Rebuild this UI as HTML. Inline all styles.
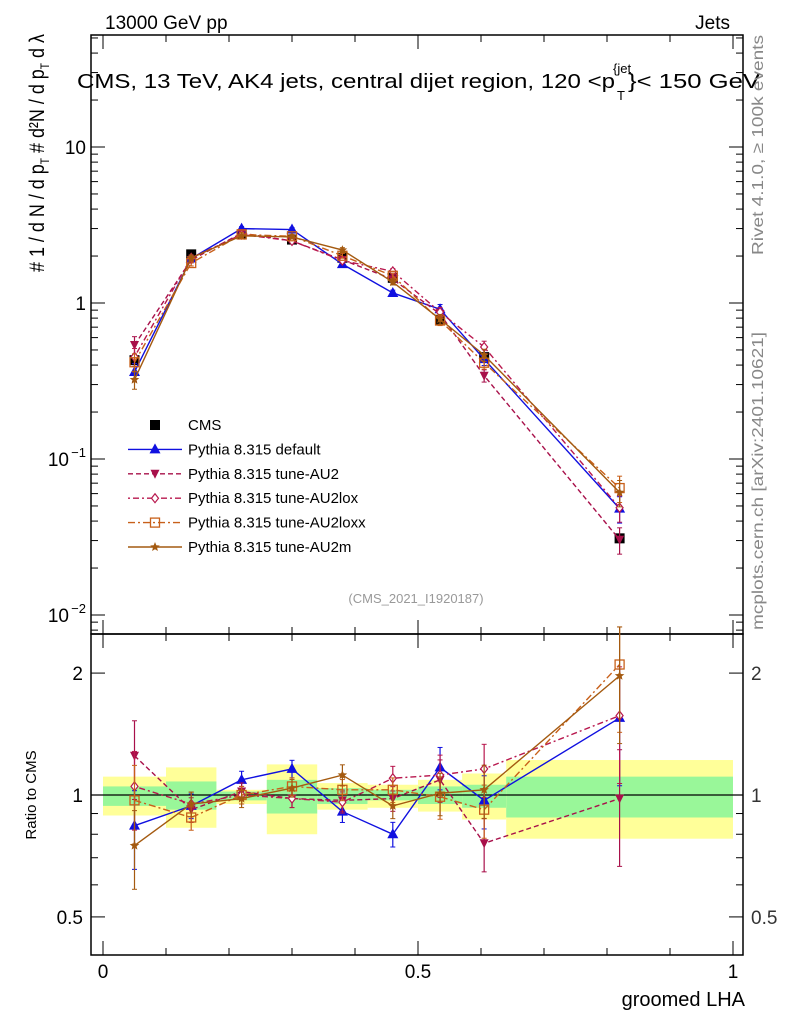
<!DOCTYPE html>
<html><head><meta charset="utf-8"><style>
body{margin:0;background:#fff;width:786px;height:1024px;overflow:hidden}
svg{font-family:"Liberation Sans","DejaVu Sans",sans-serif}
</style></head><body>
<svg id="chart" width="786" height="1024" viewBox="0 0 786 1024" xmlns="http://www.w3.org/2000/svg">
<text x="105" y="29" font-size="19">13000 GeV pp</text>
<text x="730" y="29" font-size="19" text-anchor="end">Jets</text>
<g id="bands"></g>
<g id="axes"></g>
<g id="series"></g>
<text x="77" y="88" font-size="20" textLength="538" lengthAdjust="spacingAndGlyphs">CMS, 13 TeV, AK4 jets, central dijet region, 120 &lt;p</text>
<text x="617" y="100" font-size="13">T</text>
<text x="613" y="73" font-size="13">{jet</text>
<text x="628" y="88" font-size="20" textLength="132" lengthAdjust="spacingAndGlyphs">}&lt; 150 GeV</text>
<text transform="translate(44,272) rotate(-90)" font-size="21" textLength="238" lengthAdjust="spacingAndGlyphs">#  1 / d N / d p<tspan font-size="12" dy="5">T</tspan><tspan dy="-5"> # d²N / d p</tspan><tspan font-size="12" dy="5">T</tspan><tspan dy="-5"> d λ</tspan></text>
<text transform="translate(36,795) rotate(-90)" font-size="15" text-anchor="middle">Ratio to CMS</text>
<text x="745" y="1006" font-size="20" text-anchor="end">groomed LHA</text>
<text transform="translate(763,255) rotate(-90)" font-size="16" fill="#888" textLength="220" lengthAdjust="spacingAndGlyphs">Rivet 4.1.0, ≥ 100k events</text>
<text transform="translate(763,630) rotate(-90)" font-size="16" fill="#888" textLength="298" lengthAdjust="spacingAndGlyphs">mcplots.cern.ch [arXiv:2401.10621]</text>
<text x="416" y="603" font-size="13" fill="#999" text-anchor="middle">(CMS_2021_I1920187)</text>
<g id="legend"></g>
</svg>
<script>
const xCenters=[0.05,0.14,0.22,0.30,0.38,0.46,0.535,0.605,0.82];
const binEdges=[0,0.1,0.18,0.26,0.34,0.42,0.5,0.57,0.64,1.0];
const cmsValues=[0.43,2.05,2.75,2.55,1.95,1.45,0.78,0.45,0.031];
const ratioDefault=[0.84,0.94,1.09,1.16,0.91,0.80,1.17,0.97,1.55];
const ratioAU2=[1.25,0.92,1.02,0.98,0.97,0.98,1.09,0.76,0.98];
const ratioAU2lox=[1.05,0.95,1.00,0.98,0.96,1.10,1.12,1.16,1.57];
const ratioAU2loxx=[0.97,0.88,1.00,1.05,1.03,1.03,0.99,0.92,2.10];
const ratioAU2m=[0.75,0.95,0.98,1.04,1.12,0.94,1.01,1.03,1.97];
const relErr=[0.22,0.07,0.05,0.05,0.06,0.07,0.12,0.15,0.32];
const bandTotalUp=[1.11,1.17,1.03,1.19,1.07,1.06,1.09,1.13,1.22];
const bandTotalDn=[0.89,0.83,0.95,0.80,0.92,0.93,0.91,0.87,0.78];
const bandStatUp=[1.05,1.08,1.02,1.09,1.04,1.03,1.05,1.06,1.11];
const bandStatDn=[0.94,0.92,0.97,0.90,0.95,0.97,0.95,0.93,0.88];
const legendLabels=["CMS","Pythia 8.315 default","Pythia 8.315 tune-AU2","Pythia 8.315 tune-AU2lox","Pythia 8.315 tune-AU2loxx","Pythia 8.315 tune-AU2m"];

const NS="http://www.w3.org/2000/svg";
const L=91,R=743,T=35,MB=634,RB=955;
const X=v=>103+630*v;
const Y=v=>303-156*Math.log10(v);
const YR=v=>795-405*Math.log10(v);
function mk(parent,tag,attrs){const e=document.createElementNS(NS,tag);for(const k in attrs)e.setAttribute(k,attrs[k]);document.getElementById(parent).appendChild(e);return e;}

for(let i=0;i<xCenters.length;i++){
  const x0=X(binEdges[i]),x1=X(binEdges[i+1]);
  const y=mk('bands','rect',{x:x0,y:YR(bandTotalUp[i]),width:x1-x0,height:YR(bandTotalDn[i])-YR(bandTotalUp[i]),fill:'#ffff99'});
  
  
  const g=mk('bands','rect',{x:x0,y:YR(bandStatUp[i]),width:x1-x0,height:YR(bandStatDn[i])-YR(bandStatUp[i]),fill:'#99f799'});
  
  
}
const f1=mk('axes','rect',{x:L,y:T,width:R-L,height:MB-T,fill:'none',stroke:'#000','stroke-width':1.5});


const f2=mk('axes','rect',{x:L,y:MB,width:R-L,height:RB-MB,fill:'none',stroke:'#000','stroke-width':1.5});


const ref=mk('axes','line',{x1:L,x2:R,y1:YR(1),y2:YR(1),stroke:'#000','stroke-width':1.3});


for(let k=0;k<=10;k++){
  const v=k/10,x=X(v),len=(k%5==0)?14:7;
  [[MB,-1],[RB,-1],[T,1],[MB,1]].forEach(([yb,d])=>{mk('axes','line',{x1:x,x2:x,y1:yb,y2:yb+d*len,stroke:'#000'});});
}
[[0,"0"],[0.5,"0.5"],[1,"1"]].forEach(([v,t])=>{const e=mk('axes','text',{x:X(v),y:978,'font-size':19,'text-anchor':'middle'});e.textContent=t;});
for(let p=-3;p<=1;p++){for(let m=1;m<=9;m++){const v=m*Math.pow(10,p),y=Y(v);if(y<T||y>MB)continue;const len=m==1?14:7;
  mk('axes','line',{x1:L,x2:L+len,y1:y,y2:y,stroke:'#000'});mk('axes','line',{x1:R,x2:R-len,y1:y,y2:y,stroke:'#000'});}}
[[10,"10"],[1,"1"]].forEach(([v,t])=>{const e=mk('axes','text',{x:L-5,y:Y(v)+7,'font-size':19,'text-anchor':'end'});e.textContent=t;});
[[0.1,"−1"],[0.01,"−2"]].forEach(([v,t])=>{const e=mk('axes','text',{x:L-22,y:Y(v)+7,'font-size':19,'text-anchor':'end'});e.textContent="10";
  const s=mk('axes','text',{x:L-5,y:Y(v)-2,'font-size':13,'text-anchor':'end'});s.textContent=t;});
[0.5,0.6,0.7,0.8,0.9,1,2].forEach(v=>{const y=YR(v),len=(v==0.5||v==1||v==2)?14:7;mk('axes','line',{x1:L,x2:L+len,y1:y,y2:y,stroke:'#000'});mk('axes','line',{x1:R,x2:R-len,y1:y,y2:y,stroke:'#000'});});
[[0.5,"0.5"],[1,"1"],[2,"2"]].forEach(([v,t])=>{
  const a=mk('axes','text',{x:L-8,y:YR(v)+7,'font-size':19,'text-anchor':'end'});a.textContent=t;
  const b=mk('axes','text',{x:R+8,y:YR(v)+7,'font-size':19,'fill':'#333'});b.textContent=t;});

function marker(g,type,x,y,c){
  if(type=='sq')return mk(g,'rect',{x:x-5,y:y-5,width:10,height:10,fill:'#000'});
  if(type=='tri')return mk(g,'polygon',{points:`${x},${y-6} ${x-5.5},${y+4} ${x+5.5},${y+4}`,fill:c});
  if(type=='itri')return mk(g,'polygon',{points:`${x},${y+5} ${x-4.5},${y-4} ${x+4.5},${y-4}`,fill:c});
  if(type=='dia')return mk(g,'polygon',{points:`${x},${y-4.5} ${x-3.5},${y} ${x},${y+4.5} ${x+3.5},${y}`,fill:'#fff',stroke:c,'stroke-width':1.2});
  if(type=='osq')return mk(g,'rect',{x:x-4.5,y:y-4.5,width:9,height:9,fill:'none',stroke:c,'stroke-width':1.3});
  if(type=='star'){let p=[];for(let k=0;k<10;k++){const r=k%2?2.2:5,a=-Math.PI/2+k*Math.PI/5;p.push((x+r*Math.cos(a)).toFixed(1)+','+(y+r*Math.sin(a)).toFixed(1));}return mk(g,'polygon',{points:p.join(' '),fill:c});}
}
const series=[
 {name:'pythia-default',ratio:ratioDefault,c:'#1010e0',dash:'',m:'tri'},
 {name:'pythia-au2',ratio:ratioAU2,c:'#a8104a',dash:'5,3',m:'itri'},
 {name:'pythia-au2lox',ratio:ratioAU2lox,c:'#b8184e',dash:'2,3,6,3',m:'dia'},
 {name:'pythia-au2loxx',ratio:ratioAU2loxx,c:'#c8601a',dash:'7,3,2,3',m:'osq'},
 {name:'pythia-au2m',ratio:ratioAU2m,c:'#a45a10',dash:'',m:'star'}];
function errbar(x,y1,y2,c){mk('series','line',{x1:x,x2:x,y1:y1,y2:y2,stroke:c,'stroke-width':1.2});mk('series','line',{x1:x-2.5,x2:x+2.5,y1:y1,y2:y1,stroke:c});mk('series','line',{x1:x-2.5,x2:x+2.5,y1:y2,y2:y2,stroke:c});}
cmsValues.forEach((v,i)=>{const e=marker('series','sq',X(xCenters[i]),Y(v));});
series.forEach(s=>{
  const main=s.ratio.map((r,i)=>r*cmsValues[i]);
  const pl=mk('series','polyline',{points:main.map((v,i)=>X(xCenters[i])+','+Y(v)).join(' '),fill:'none',stroke:s.c,'stroke-width':1.4,'stroke-dasharray':s.dash});
  
  
  const pr=mk('series','polyline',{points:s.ratio.map((v,i)=>X(xCenters[i])+','+YR(v)).join(' '),fill:'none',stroke:s.c,'stroke-width':1.4,'stroke-dasharray':s.dash});
  
  
  main.forEach((v,i)=>{const x=X(xCenters[i]),e=relErr[i]*0.6;errbar(x,Y(v*(1+e)),Y(v*(1-e)),s.c);
    const mm=marker('series',s.m,x,Y(v),s.c);});
  s.ratio.forEach((v,i)=>{const x=X(xCenters[i]),e=relErr[i];errbar(x,YR(Math.min(v*(1+e),2.6)),YR(Math.max(v*(1-e),0.45)),s.c);
    const mm=marker('series',s.m,x,YR(v),s.c);});
});
const legM=['sq','tri','itri','dia','osq','star'];
legendLabels.forEach((t,i)=>{const y=425+24.4*i;
  if(i>0){const s=series[i-1];const ln=mk('legend','line',{x1:128,x2:182,y1:y,y2:y,stroke:s.c,'stroke-width':1.4,'stroke-dasharray':s.dash});
    const m=marker('legend',legM[i],155,y,s.c);}
  else{const m=marker('legend','sq',155,y);}
  const tx=mk('legend','text',{x:188,y:y+5,'font-size':15});tx.textContent=t;
  
  
});
</script>
</body></html>
